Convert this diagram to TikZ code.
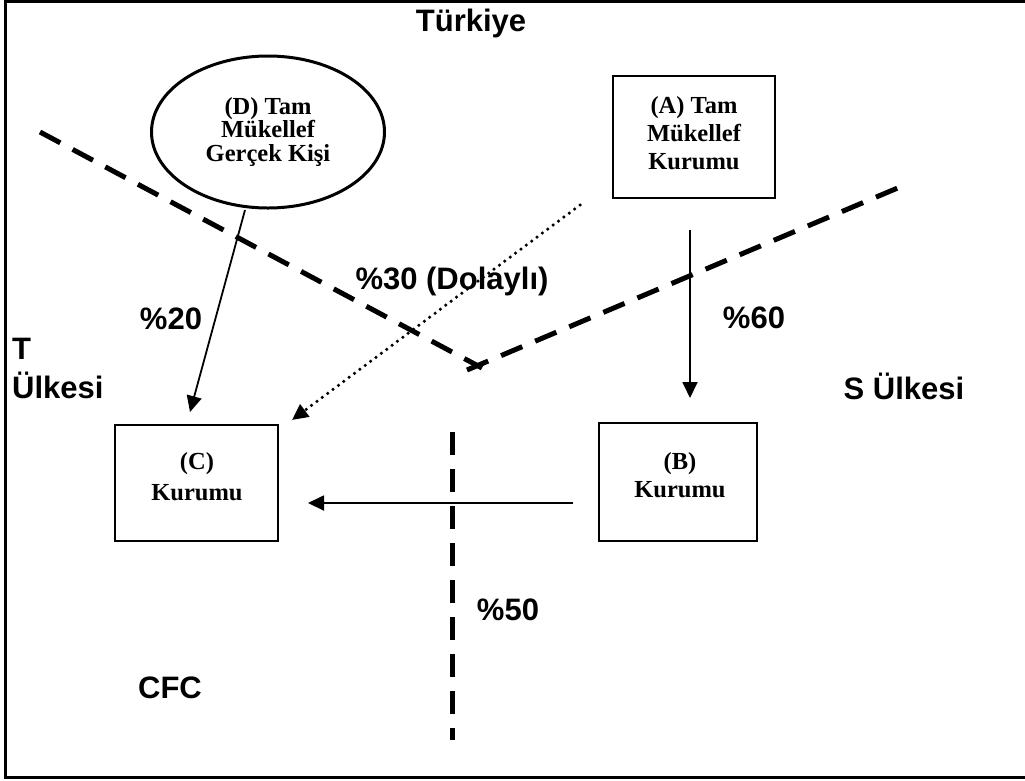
\documentclass[tikz,border=0pt]{standalone}
\usepackage{fontspec}
\setmainfont{Liberation Serif}
\setsansfont{Liberation Sans}
\usetikzlibrary{arrows.meta,shapes.geometric,calc}
\begin{document}
\begin{tikzpicture}[x=1pt,y=-1pt,
  lbl/.style={font=\sffamily\bfseries\fontsize{31}{39}\selectfont, inner sep=0pt},
  ent/.style={font=\rmfamily\bfseries\fontsize{24.5}{28}\selectfont, align=center, inner sep=0pt},
  box/.style={draw, line width=1.5pt, inner sep=0pt},
  border/.style={line width=5pt, dash pattern=on 23pt off 14pt},
  arr/.style={line width=1.8pt, -{Triangle[length=16pt,width=15pt]}},
  dotarr/.style={line width=3.5pt, line cap=round, dash pattern=on 0pt off 6.7pt, -{Triangle[length=16pt,width=15pt]}}]
\useasboundingbox (0,0) rectangle (1025,780);
% outer frame
\draw[line width=3pt] (5,1) rectangle (1045,777);
% labels
\node[lbl, anchor=base] (tr) at (471,31) {Türkiye};
\node[lbl, anchor=north west, align=left] (tu) at (12,338) {T\\Ülkesi};
\node[lbl, anchor=base] (su) at (904,399) {S Ülkesi};
\node[lbl, anchor=base] (p20) at (171,329) {\%20};
\node[lbl, anchor=base] (p30) at (452,289) {\%30 (Dolaylı)};
\node[lbl, anchor=base] (p60) at (754,328) {\%60};
\node[lbl, anchor=base] (p50) at (508,620) {\%50};
\node[lbl, anchor=base] (cfc) at (170,698) {CFC};
% entities
\node[draw, ellipse, line width=3pt, minimum width=233pt, minimum height=152pt, inner sep=0pt,
      font=\rmfamily\bfseries\fontsize{24.5}{23.5}\selectfont, align=center] (D) at (268,132) {(D) Tam\\Mükellef\\Gerçek Kişi};
\node[box, minimum width=162pt, minimum height=122pt] (A) at (694,137) {};
\node[ent] (At) at (694,133) {(A) Tam\\Mükellef\\Kurumu};
\node[box, minimum width=163pt, minimum height=116pt] (C) at (196.5,483) {};
\node[ent, font=\rmfamily\bfseries\fontsize{24.5}{31}\selectfont] (Ct) at (197,477) {(C)\\Kurumu};
\node[box, minimum width=158pt, minimum height=118pt] (B) at (678,482) {};
\node[ent] (Bt) at (680,475) {(B)\\Kurumu};
% dashed borders
\coordinate (l1) at (40,132);
\coordinate (l2) at (482,368);
\coordinate (r1) at (467,370);
\coordinate (r2) at (900,187);
\coordinate (v1) at (452,432);
\coordinate (v2) at (452,740);
\draw[border] (l1) -- (l2);
\draw[border] (r1) -- (r2);
\draw[border] (v1) -- (v2);
% arrows
\coordinate (dc1) at (245,210);
\coordinate (dc2) at (190,412);
\coordinate (ab1) at (690,230);
\coordinate (ab2) at (690,398);
\coordinate (ac1) at (580,205);
\coordinate (ac2) at (292,420);
\coordinate (bc1) at (573,503);
\coordinate (bc2) at (308,503);
\draw[arr] (dc1) -- (dc2);
\draw[arr] (ab1) -- (ab2);
\draw[dotarr] (ac1) -- (ac2);
\draw[arr] (bc1) -- (bc2);
\end{tikzpicture}
\end{document}
